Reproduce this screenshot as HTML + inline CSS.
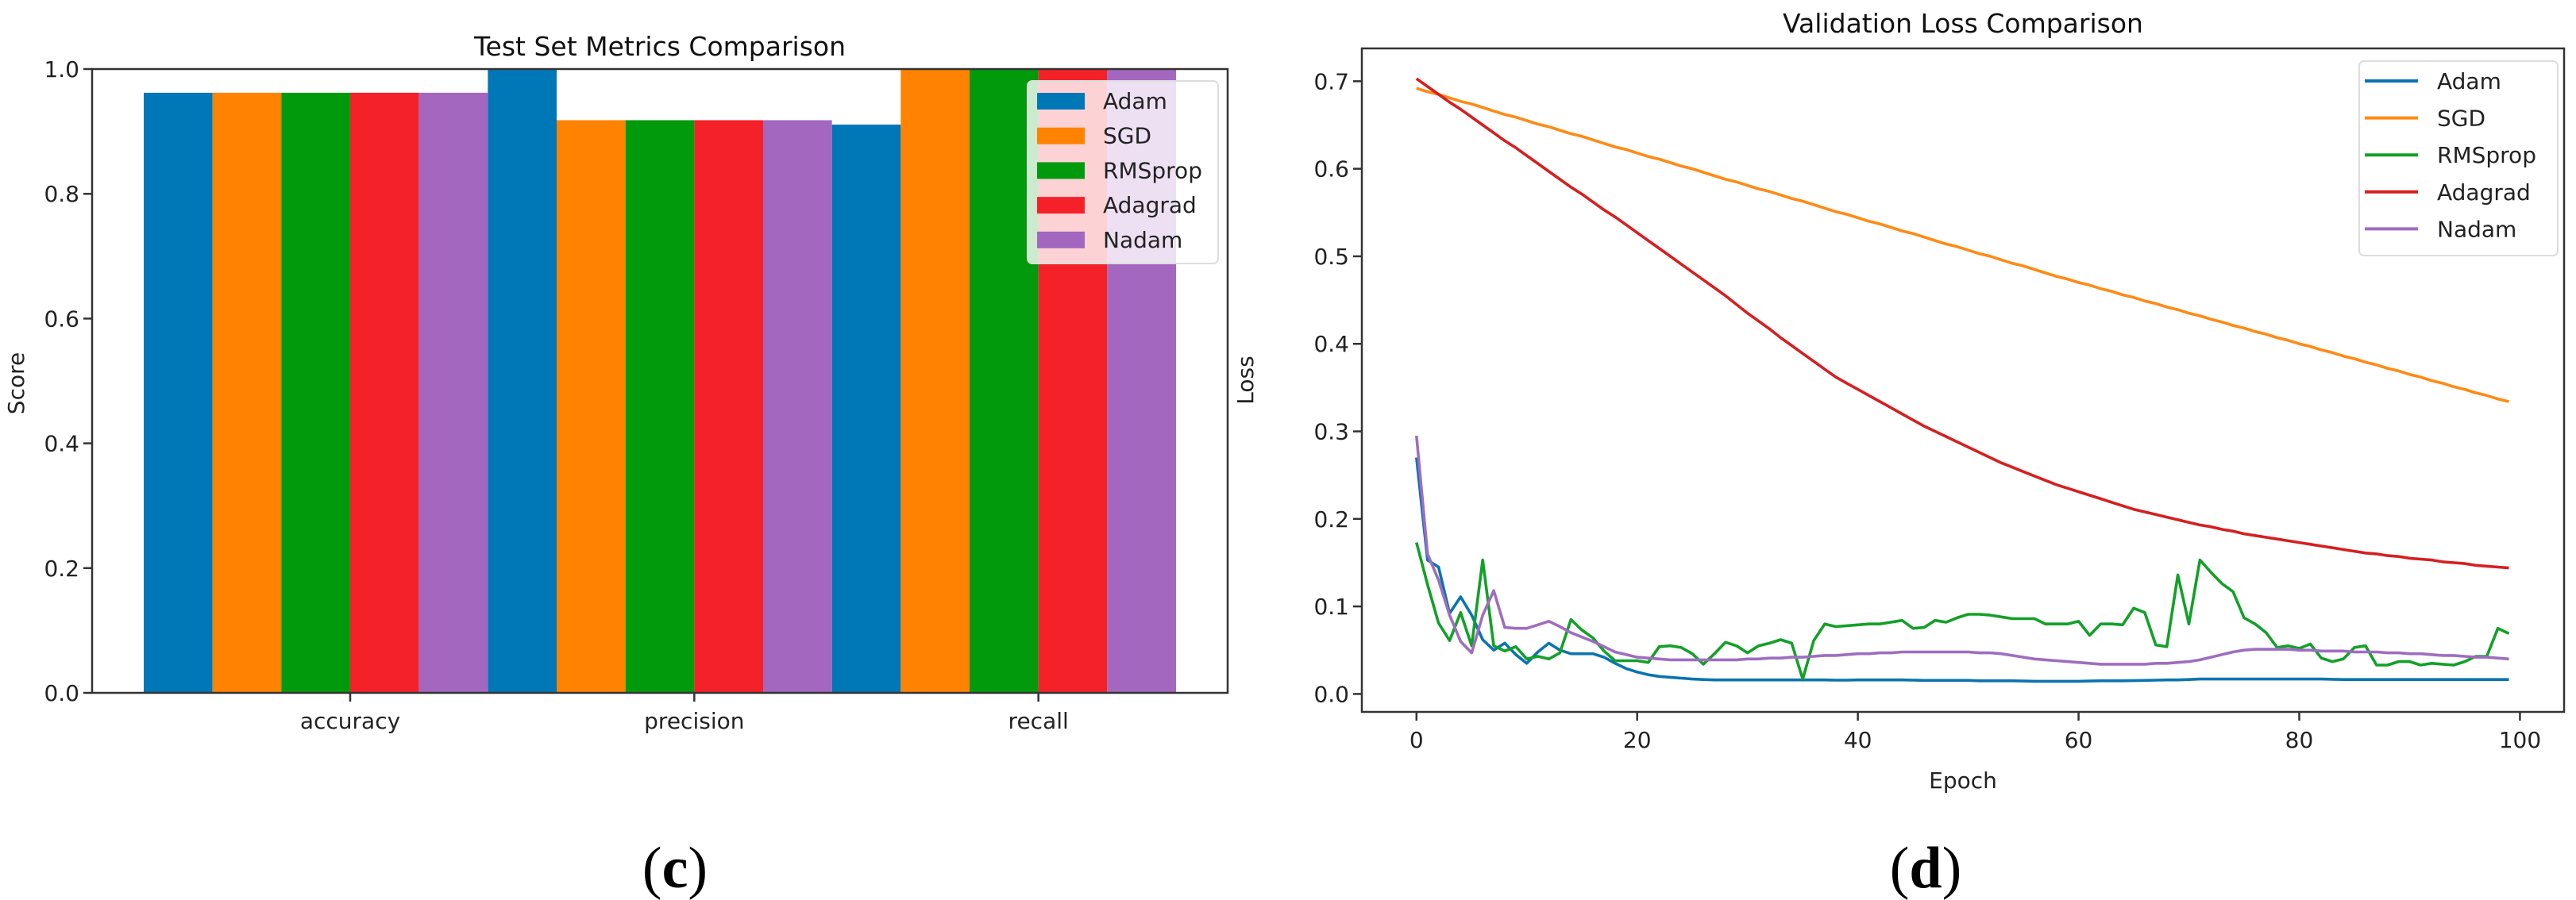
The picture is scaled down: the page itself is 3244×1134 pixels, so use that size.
<!DOCTYPE html>
<html><head><meta charset="utf-8"><style>
html,body{margin:0;padding:0;background:#fff;}
svg{display:block;font-family:"DejaVu Sans","Liberation Sans",sans-serif;}
</style></head><body>
<svg id="fig" width="3244" height="1134" viewBox="0 0 3244 1134" xmlns="http://www.w3.org/2000/svg">
<rect width="3244" height="1134" fill="#fff"/>
<g id="chartC"></g>
<g id="chartD"></g>
<text x="850" y="1118" text-anchor="middle" font-family="Liberation Serif, serif" font-size="74">(<tspan font-weight="bold">c</tspan>)</text>
<text x="2425" y="1118" text-anchor="middle" font-family="Liberation Serif, serif" font-size="74">(<tspan font-weight="bold">d</tspan>)</text>
</svg>
<script>
const optimizers = ["Adam","SGD","RMSprop","Adagrad","Nadam"];
const metrics = ["accuracy","precision","recall"];
const scoreAdam = [0.962, 1.0, 0.911];
const scoreSGD = [0.962, 0.918, 1.0];
const scoreRMSprop = [0.962, 0.918, 1.0];
const scoreAdagrad = [0.962, 0.918, 1.0];
const scoreNadam = [0.962, 0.918, 1.0];
const scoreTicks = [0.0, 0.2, 0.4, 0.6, 0.8, 1.0];

const lossAdam = [.27,.153,.145,.092,.111,.090,.062,.050,.058,.045,
.035,.048,.058,.050,.046,.046,.046,.042,.035,.029,
.025,.022,.020,.019,.018,.017,.0165,.016,.016,.016,
.016,.016,.016,.016,.016,.016,.016,.016,.0158,.0158,
.016,.016,.016,.016,.016,.0158,.0155,.0155,.0155,.0155,
.0155,.015,.015,.015,.015,.0148,.0145,.0145,.0145,.0145,
.0145,.0148,.015,.015,.015,.0152,.0155,.0158,.016,.016,
.0165,.017,.017,.017,.017,.017,.017,.017,.017,.017,
.017,.017,.017,.0168,.0165,.0165,.0165,.0165,.0165,.0165,
.0165,.0165,.0165,.0165,.0165,.0165,.0165,.0165,.0165,.0165];
const lossSGD = [.692,.688,.685,.681,.677,.674,.670,.666,.662,.659,
.655,.651,.648,.644,.640,.637,.633,.629,.625,.622,
.618,.614,.611,.607,.603,.600,.596,.592,.588,.585,
.581,.577,.574,.570,.566,.563,.559,.555,.551,.548,
.544,.540,.537,.533,.529,.526,.522,.518,.514,.511,
.507,.503,.500,.496,.492,.489,.485,.481,.477,.474,
.470,.467,.463,.460,.456,.453,.449,.446,.442,.439,
.435,.432,.428,.425,.421,.418,.414,.411,.407,.404,
.400,.397,.393,.390,.386,.383,.379,.376,.372,.369,
.365,.362,.358,.355,.351,.348,.344,.341,.337,.334];
const lossRMSprop = [.173,.125,.081,.061,.093,.055,.153,.055,.049,.054,
.040,.043,.040,.047,.085,.073,.064,.049,.038,.038,
.038,.036,.054,.055,.053,.046,.034,.046,.059,.055,
.047,.055,.058,.062,.058,.017,.061,.080,.077,.078,
.079,.080,.080,.082,.084,.075,.076,.084,.082,.087,
.091,.091,.090,.088,.086,.086,.086,.080,.080,.080,
.083,.067,.080,.080,.079,.098,.093,.056,.054,.136,
.080,.153,.139,.126,.117,.087,.080,.070,.053,.055,
.052,.057,.041,.037,.040,.053,.055,.033,.033,.037,
.037,.033,.035,.034,.033,.037,.043,.043,.075,.069];
const lossAdagrad = [.703,.694,.685,.676,.668,.659,.650,.641,.632,.624,
.615,.606,.597,.588,.579,.571,.562,.553,.545,.536,
.527,.518,.509,.500,.491,.482,.473,.464,.455,.445,
.435,.426,.417,.407,.398,.389,.380,.371,.362,.355,
.348,.341,.334,.327,.320,.313,.306,.300,.294,.288,
.282,.276,.270,.264,.259,.254,.249,.244,.239,.235,
.231,.227,.223,.219,.215,.211,.208,.205,.202,.199,
.196,.193,.191,.188,.186,.183,.181,.179,.177,.175,
.173,.171,.169,.167,.165,.163,.161,.160,.158,.157,
.155,.154,.153,.151,.150,.149,.147,.146,.145,.144];
const lossNadam = [.295,.16,.13,.09,.06,.047,.09,.118,.076,.075,
.075,.079,.083,.077,.07,.065,.06,.054,.048,.045,
.042,.041,.040,.039,.039,.039,.039,.039,.039,.039,
.040,.040,.041,.041,.042,.042,.043,.044,.044,.045,
.046,.046,.047,.047,.048,.048,.048,.048,.048,.048,
.048,.047,.047,.046,.044,.042,.040,.039,.038,.037,
.036,.035,.034,.034,.034,.034,.034,.035,.035,.036,
.037,.039,.042,.045,.048,.050,.051,.051,.051,.051,
.050,.050,.049,.049,.049,.048,.048,.048,.047,.047,
.046,.046,.045,.044,.044,.043,.042,.042,.041,.040];
const epochTicks = [0, 20, 40, 60, 80, 100];
const lossTicks = [0.0, 0.1, 0.2, 0.3, 0.4, 0.5, 0.6, 0.7];

const NS = "http://www.w3.org/2000/svg";
const barColors = ["#0077b6","#ff8200","#009a0c","#f52128","#a367bf"];
const lineColors = ["#0a74b0","#ff8a14","#13a028","#d61f1f","#9e6dc0"];
function mk(parent, tag, attrs, text) {
  const e = document.createElementNS(NS, tag);
  for (const k in attrs) e.setAttribute(k, attrs[k]);
  if (text !== undefined) e.textContent = text;
  parent.appendChild(e);
  return e;
}

/* ---------- Chart (c) ---------- */
(function(){
  const g = document.getElementById("chartC");
  const L = 116, R = 1546, T = 87, B = 873;
  const xmin = -0.25, xmax = 3.05;
  const sx = v => L + (v - xmin) / (xmax - xmin) * (R - L);
  const sy = v => B - v * (B - T);
  const width = 0.2;
  const series = [scoreAdam, scoreSGD, scoreRMSprop, scoreAdagrad, scoreNadam];
  series.forEach((vals, i) => {
    vals.forEach((v, j) => {
      const c = j + i * width;
      const r = mk(g, "rect", {x: sx(c - width/2), y: sy(v), width: sx(c + width/2) - sx(c - width/2), height: sy(0) - sy(v), fill: barColors[i]});
      
      
    });
  });
  mk(g, "rect", {x: L, y: T, width: R - L, height: B - T, fill: "none", stroke: "#333", "stroke-width": 2.5});
  scoreTicks.forEach(t => {
    mk(g, "line", {x1: L - 11, x2: L, y1: sy(t), y2: sy(t), stroke: "#333", "stroke-width": 2.5});
    const tx = mk(g, "text", {x: L - 16, y: sy(t) + 10, "text-anchor": "end", "font-size": 28, fill: "#222"}, t.toFixed(1));
    
    
  });
  metrics.forEach((m, j) => {
    const x = sx(j + 2.5 * width);
    mk(g, "line", {x1: x, x2: x, y1: B, y2: B + 11, stroke: "#333", "stroke-width": 2.5});
    const tx = mk(g, "text", {x: x, y: B + 45, "text-anchor": "middle", "font-size": 28, fill: "#222"}, m);
    
    
  });
  const yl = mk(g, "text", {x: 0, y: 0, transform: "translate(30,483) rotate(-90)", "text-anchor": "middle", "font-size": 28, fill: "#222"}, "Score");
  
  
  const tt = mk(g, "text", {x: (L + R) / 2, y: 70, "text-anchor": "middle", "font-size": 33, fill: "#111"}, "Test Set Metrics Comparison");
  
  
  const lg = mk(g, "g", {});
  
  
  mk(lg, "rect", {x: 1294, y: 102, width: 240, height: 230, rx: 6, fill: "rgba(255,255,255,0.8)", stroke: "#ddd", "stroke-width": 2});
  optimizers.forEach((n, i) => {
    const y = 127 + i * 43.7;
    const e = mk(lg, "g", {});
    
    
    mk(e, "rect", {x: 1306, y: y - 10, width: 60, height: 21, fill: barColors[i]});
    mk(e, "text", {x: 1389, y: y + 10, "font-size": 28, fill: "#222"}, n);
  });
})();

/* ---------- Chart (d) ---------- */
(function(){
  const g = document.getElementById("chartD");
  const L = 1715, R = 3229, T = 61, B = 897;
  const xmin = -4.95, xmax = 104.0;
  const sx = v => L + (v - xmin) / (xmax - xmin) * (R - L);
  const ymin = -0.0205, ymax = 0.7375;
  const sy = v => B - (v - ymin) / (ymax - ymin) * (B - T);
  const series = [lossAdam, lossSGD, lossRMSprop, lossAdagrad, lossNadam];
  mk(g, "rect", {x: L, y: T, width: R - L, height: B - T, fill: "#fff"});
  series.forEach((vals, i) => {
    const d = vals.map((v, k) => (k ? "L" : "M") + sx(k).toFixed(1) + "," + sy(v).toFixed(1)).join("");
    const p = mk(g, "path", {d: d, fill: "none", stroke: lineColors[i], "stroke-width": 3.6, "stroke-linejoin": "round"});
    
    
  });
  mk(g, "rect", {x: L, y: T, width: R - L, height: B - T, fill: "none", stroke: "#333", "stroke-width": 2.5});
  lossTicks.forEach(t => {
    mk(g, "line", {x1: L - 11, x2: L, y1: sy(t), y2: sy(t), stroke: "#333", "stroke-width": 2.5});
    const tx = mk(g, "text", {x: L - 16, y: sy(t) + 10, "text-anchor": "end", "font-size": 28, fill: "#222"}, t.toFixed(1));
    
    
  });
  epochTicks.forEach(t => {
    const x = sx(t);
    mk(g, "line", {x1: x, x2: x, y1: B, y2: B + 11, stroke: "#333", "stroke-width": 2.5});
    const tx = mk(g, "text", {x: x, y: B + 45, "text-anchor": "middle", "font-size": 28, fill: "#222"}, String(t));
    
    
  });
  const xl = mk(g, "text", {x: (L + R) / 2, y: 993, "text-anchor": "middle", "font-size": 28, fill: "#222"}, "Epoch");
  
  
  const yl = mk(g, "text", {x: 0, y: 0, transform: "translate(1578,479) rotate(-90)", "text-anchor": "middle", "font-size": 28, fill: "#222"}, "Loss");
  
  
  const tt = mk(g, "text", {x: (L + R) / 2, y: 41, "text-anchor": "middle", "font-size": 33, fill: "#111"}, "Validation Loss Comparison");
  
  
  const lg = mk(g, "g", {});
  
  
  mk(lg, "rect", {x: 2971, y: 77, width: 250, height: 245, rx: 6, fill: "rgba(255,255,255,0.8)", stroke: "#ddd", "stroke-width": 2});
  optimizers.forEach((n, i) => {
    const y = 102 + i * 46.6;
    const e = mk(lg, "g", {});
    
    
    mk(e, "line", {x1: 2978, x2: 3045, y1: y, y2: y, stroke: lineColors[i], "stroke-width": 4});
    mk(e, "text", {x: 3069, y: y + 10, "font-size": 28, fill: "#222"}, n);
  });
})();
</script>
</body></html>
